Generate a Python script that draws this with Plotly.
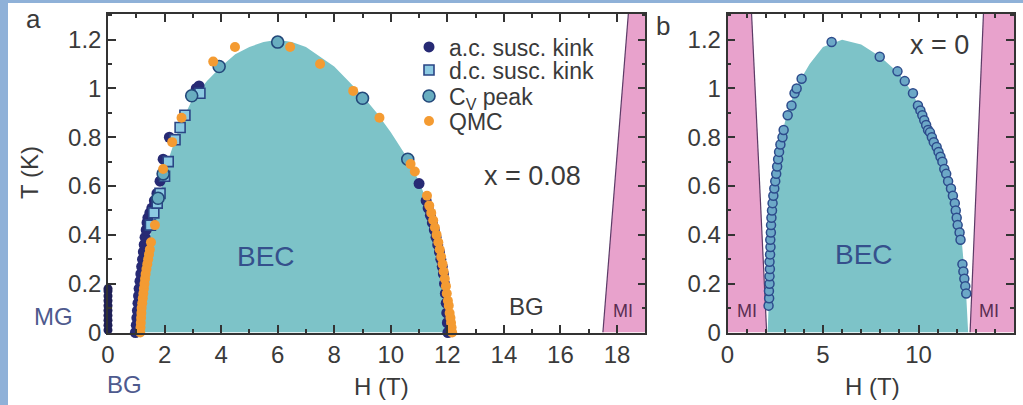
import plotly.graph_objects as go

# ---------------- panel a : x = 0.08 ----------------
# BEC dome outline (H in tesla, T in kelvin)
bec_a_H = [1.15, 1.25, 1.45, 1.70, 1.95, 2.20, 2.55, 3.00, 3.50, 4.00, 4.50, 5.00, 5.50, 6.00,
           6.50, 7.00, 7.50, 8.00, 8.50, 9.00, 9.50, 10.00, 10.50, 11.00, 11.30, 11.60, 11.85,
           12.00, 12.05]
bec_a_T = [0.00, 0.20, 0.38, 0.50, 0.62, 0.73, 0.85, 0.96, 1.03, 1.09, 1.14, 1.17, 1.19, 1.20,
           1.19, 1.17, 1.13, 1.09, 1.03, 0.97, 0.90, 0.82, 0.73, 0.62, 0.53, 0.41, 0.27,
           0.13, 0.00]

# Mott-insulator wedge at high field
mi_a_H = [17.5, 18.4, 19.0, 19.0]
mi_a_T = [0.0, 1.305, 1.305, 0.0]
mi_a_edge_H = [17.5, 18.4]
mi_a_edge_T = [0.0, 1.305]

# a.c. susceptibility kinks in zero field (magnetic glass)
mg_H = [0.0, 0.0, 0.0, 0.0, 0.0, 0.0, 0.0, 0.0, 0.0, 0.0]
mg_T = [0.01, 0.03, 0.05, 0.07, 0.09, 0.11, 0.13, 0.15, 0.17, 0.18]

# a.c. susceptibility kinks along the dome
ac_H = [0.97, 1.00, 1.02, 1.04, 1.06, 1.08, 1.10, 1.13, 1.16, 1.19, 1.22, 1.25, 1.28, 1.31,
        1.35, 1.38, 1.41, 1.48, 1.55, 1.64, 1.73, 1.84, 1.95, 2.17, 3.12, 3.22,
        11.00, 11.25, 11.32, 11.40, 11.47, 11.54, 11.60, 11.66, 11.72, 11.77, 11.82, 11.86,
        11.90, 11.93, 11.96, 11.98, 12.00, 12.02]
ac_T = [0.00, 0.03, 0.06, 0.09, 0.12, 0.15, 0.18, 0.21, 0.24, 0.27, 0.30, 0.33, 0.36, 0.39,
        0.42, 0.45, 0.47, 0.49, 0.51, 0.54, 0.57, 0.62, 0.71, 0.80, 1.00, 1.01,
        0.61, 0.54, 0.51, 0.48, 0.45, 0.42, 0.39, 0.36, 0.33, 0.30, 0.27, 0.24,
        0.20, 0.16, 0.12, 0.08, 0.04, 0.00]

# d.c. susceptibility kinks
dc_H = [1.50, 1.62, 1.74, 1.84, 2.00, 2.13, 2.37, 2.55, 2.72, 3.25]
dc_T = [0.44, 0.49, 0.53, 0.57, 0.64, 0.70, 0.79, 0.84, 0.89, 0.98]

# specific-heat peaks
cv_H = [1.77, 1.95, 2.96, 3.93, 6.00, 9.00, 10.60]
cv_T = [0.55, 0.65, 0.97, 1.09, 1.19, 0.96, 0.71]

# quantum Monte Carlo
qmc_H = [1.14, 1.15, 1.16, 1.17, 1.18, 1.19, 1.21, 1.23, 1.25, 1.27, 1.29, 1.31, 1.33, 1.36,
         1.39, 1.42, 1.45, 1.48, 1.52,
         1.66, 1.95, 2.27, 2.60, 3.72, 4.49, 6.44, 7.50, 8.67, 9.60, 10.70, 10.85, 11.28,
         11.36, 11.43, 11.50, 11.56, 11.62, 11.68, 11.73, 11.78, 11.83, 11.87, 11.91, 11.95,
         11.98, 12.02, 12.05, 12.08, 12.11, 12.13, 12.15, 12.17]
qmc_T = [0.00, 0.02, 0.04, 0.06, 0.08, 0.10, 0.12, 0.14, 0.16, 0.18, 0.20, 0.22, 0.24, 0.26,
         0.28, 0.30, 0.32, 0.34, 0.37,
         0.44, 0.67, 0.78, 0.88, 1.11, 1.17, 1.17, 1.10, 0.99, 0.88, 0.69, 0.66, 0.56,
         0.52, 0.49, 0.46, 0.43, 0.40, 0.37, 0.34, 0.31, 0.28, 0.25, 0.22, 0.19,
         0.16, 0.13, 0.11, 0.08, 0.06, 0.04, 0.02, 0.00]

# ---------------- panel b : x = 0 ----------------
bec_b_H = [2.10, 2.15, 2.22, 2.30, 2.45, 2.80, 3.20, 3.70, 4.30, 5.00, 6.00, 7.00, 8.00, 9.00,
           9.70, 10.50, 11.20, 11.80, 12.20, 12.35, 12.50, 12.60]
bec_b_T = [0.00, 0.10, 0.25, 0.40, 0.60, 0.80, 0.92, 1.02, 1.10, 1.17, 1.20, 1.18, 1.13, 1.06,
           0.98, 0.84, 0.72, 0.58, 0.43, 0.30, 0.15, 0.00]

mi_b_left_H = [0.0, 2.05, 1.26, 0.0]
mi_b_left_T = [0.0, 0.0, 1.305, 1.305]
mi_b_left_edge_H = [2.05, 1.26]
mi_b_right_H = [12.7, 15.0, 15.0, 13.4]
mi_b_right_T = [0.0, 0.0, 1.305, 1.305]
mi_b_right_edge_H = [12.7, 13.4]
mi_b_edge_T = [0.0, 1.305]

cv0_H = [2.15, 2.18, 2.17, 2.20, 2.20, 2.22, 2.20, 2.23, 2.25, 2.24, 2.27, 2.28, 2.30, 2.33,
         2.36, 2.40, 2.45, 2.50, 2.55, 2.60, 2.65, 2.70, 2.77, 2.88, 2.94, 3.15, 3.35, 3.51,
         3.62, 3.88, 5.45, 7.97, 8.90, 9.28, 9.71, 9.97, 10.10, 10.20, 10.30, 10.40, 10.50,
         10.60, 10.70, 10.80, 10.95, 11.05, 11.15, 11.25, 11.35, 11.45, 11.55, 11.70, 11.80,
         11.90, 11.95, 12.00, 12.05, 12.15, 12.20, 12.30, 12.35, 12.40, 12.45, 12.50]
cv0_T = [0.11, 0.14, 0.17, 0.20, 0.23, 0.26, 0.29, 0.32, 0.35, 0.38, 0.41, 0.44, 0.47, 0.50,
         0.53, 0.56, 0.59, 0.62, 0.65, 0.68, 0.71, 0.74, 0.77, 0.80, 0.83, 0.89, 0.93, 0.98,
         1.00, 1.04, 1.19, 1.13, 1.07, 1.03, 0.98, 0.93, 0.91, 0.89, 0.87, 0.85, 0.83,
         0.82, 0.80, 0.78, 0.76, 0.74, 0.72, 0.70, 0.67, 0.65, 0.62, 0.59, 0.56,
         0.53, 0.50, 0.47, 0.44, 0.41, 0.38, 0.28, 0.25, 0.22, 0.19, 0.16]

# ---------------- styling ----------------
W, H = 1023, 405
FONT = "Liberation Sans, Arial, sans-serif"
TXT = "#3a3a3a"
TEAL = "#7dc3c8"
PINK = "#e8a2cc"
EDGE = "#5b3a66"
AC = "#272a74"
QMC = "#f49b32"

def px(x):
    return x / W

def py(y):
    return 1 - y / H

dom_y = [py(332.5), py(14)]
dom_xa = [px(108), px(645.3)]
dom_xb = [px(727.5), px(1014)]

fig = go.Figure()

# panel a regions
fig.add_trace(go.Scatter(x=bec_a_H, y=bec_a_T, fill="toself", fillcolor=TEAL, mode="none",
                         hoverinfo="skip", showlegend=False, xaxis="x", yaxis="y"))
fig.add_trace(go.Scatter(x=mi_a_H, y=mi_a_T, fill="toself", fillcolor=PINK, mode="none",
                         hoverinfo="skip", showlegend=False, xaxis="x", yaxis="y"))
fig.add_trace(go.Scatter(x=mi_a_edge_H, y=mi_a_edge_T, mode="lines", line=dict(color=EDGE, width=1.2),
                         hoverinfo="skip", showlegend=False, xaxis="x", yaxis="y"))

# panel a symbols
fig.add_trace(go.Scatter(x=mg_H, y=mg_T, mode="markers", showlegend=False,
                         marker=dict(symbol="circle", size=9, color="#1e1f55", line=dict(width=0)),
                         cliponaxis=False, xaxis="x", yaxis="y"))
fig.add_trace(go.Scatter(x=ac_H, y=ac_T, mode="markers", name="a.c. susc. kink", legend="legend",
                         marker=dict(symbol="circle", size=11, color=AC, line=dict(width=0)),
                         cliponaxis=False, xaxis="x", yaxis="y"))
fig.add_trace(go.Scatter(x=dc_H, y=dc_T, mode="markers", name="d.c. susc. kink", legend="legend2",
                         marker=dict(symbol="square", size=10, color="#8ccae2",
                                     line=dict(width=1.6, color="#2a4585")),
                         xaxis="x", yaxis="y"))
fig.add_trace(go.Scatter(x=cv_H, y=cv_T, mode="markers", name="C<sub>V</sub> peak", legend="legend3",
                         marker=dict(symbol="circle", size=12, color="#68adc0",
                                     line=dict(width=1.6, color="#23487a")),
                         xaxis="x", yaxis="y"))
fig.add_trace(go.Scatter(x=qmc_H, y=qmc_T, mode="markers", name="QMC", legend="legend4",
                         marker=dict(symbol="circle", size=10, color=QMC, line=dict(width=0)),
                         cliponaxis=False, xaxis="x", yaxis="y"))

# panel b regions and symbols
fig.add_trace(go.Scatter(x=bec_b_H, y=bec_b_T, fill="toself", fillcolor=TEAL, mode="none",
                         hoverinfo="skip", showlegend=False, xaxis="x2", yaxis="y2"))
fig.add_trace(go.Scatter(x=mi_b_left_H, y=mi_b_left_T, fill="toself", fillcolor=PINK, mode="none",
                         hoverinfo="skip", showlegend=False, xaxis="x2", yaxis="y2"))
fig.add_trace(go.Scatter(x=mi_b_right_H, y=mi_b_right_T, fill="toself", fillcolor=PINK, mode="none",
                         hoverinfo="skip", showlegend=False, xaxis="x2", yaxis="y2"))
for eh in (mi_b_left_edge_H, mi_b_right_edge_H):
    fig.add_trace(go.Scatter(x=eh, y=mi_b_edge_T, mode="lines", line=dict(color=EDGE, width=1.2),
                             hoverinfo="skip", showlegend=False, xaxis="x2", yaxis="y2"))
fig.add_trace(go.Scatter(x=cv0_H, y=cv0_T, mode="markers", showlegend=False,
                         marker=dict(symbol="circle", size=9, color="#6ca8c7",
                                     line=dict(width=1.5, color="#2d4c8c")),
                         xaxis="x2", yaxis="y2"))

tickfont = dict(family=FONT, size=24, color=TXT)

def xaxis(dom, rng, dtick, minor):
    return dict(domain=dom, range=rng, showline=True, linecolor="#333", linewidth=1.5,
                mirror="allticks", ticks="inside", ticklen=8, tickwidth=1.5, tickcolor="#333",
                tick0=0, dtick=dtick, tickfont=tickfont, showgrid=False, zeroline=False,
                minor=dict(ticks="inside", dtick=minor, tick0=0, ticklen=4, tickwidth=1.5,
                           tickcolor="#333", showgrid=False),
                automargin=False, fixedrange=True)

def yaxis(anchor):
    return dict(domain=dom_y, range=[0, 1.305], anchor=anchor, showline=True, linecolor="#333",
                linewidth=1.5, mirror="allticks", ticks="inside", ticklen=8, tickwidth=1.5,
                tickcolor="#333", tick0=0, dtick=0.2, tickfont=tickfont, showgrid=False,
                zeroline=False,
                minor=dict(ticks="inside", dtick=0.1, tick0=0, ticklen=4, tickwidth=1.5,
                           tickcolor="#333", showgrid=False),
                automargin=False, fixedrange=True)

legfont = dict(family=FONT, size=23, color=TXT)
def leg(ycenter):
    return dict(x=px(409), y=py(ycenter), xanchor="left", yanchor="middle",
                bgcolor="rgba(0,0,0,0)", font=legfont, borderwidth=0,
                itemsizing="trace")

def ann(text, x, y, size=24, color=TXT, xref="paper", yref="paper"):
    return dict(text=text, x=x, y=y, xref=xref, yref=yref, showarrow=False,
                font=dict(family=FONT, size=size, color=color), xanchor="center", yanchor="middle")

BLUE_TXT = "#35508c"
GREY_BLUE = "#4e5a8e"
MI_TXT = "#5a2d52"

annotations = [
    ann("a", px(33), py(19), size=26),
    ann("b", px(663), py(26), size=26),
    ann("T (K)", px(29), py(173), size=24),
    ann("H (T)", px(381), py(386), size=24),
    ann("H (T)", px(872), py(386), size=24),
    ann("BEC", 5.6, 0.31, size=28, color=BLUE_TXT, xref="x", yref="y"),
    ann("BEC", 7.15, 0.32, size=28, color=BLUE_TXT, xref="x2", yref="y2"),
    ann("x = 0.08", 15.0, 0.64, size=27, xref="x", yref="y"),
    ann("x = 0", 11.1, 1.18, size=27, xref="x2", yref="y2"),
    ann("BG", 14.8, 0.107, size=24, xref="x", yref="y"),
    ann("MI", 18.2, 0.09, size=18, color=MI_TXT, xref="x", yref="y"),
    ann("MI", 1.0, 0.09, size=18, color=MI_TXT, xref="x2", yref="y2"),
    ann("MI", 13.7, 0.09, size=18, color=MI_TXT, xref="x2", yref="y2"),
    ann("MG", px(53), py(316), size=24, color=GREY_BLUE),
    ann("BG", px(124), py(384), size=24, color=GREY_BLUE),
]
annotations[2]["textangle"] = -90

# light-blue frame strips along the left and top edges
shapes = [
    dict(type="rect", xref="paper", yref="paper", x0=0, x1=px(8), y0=0, y1=1,
         fillcolor="#8fb1d8", line=dict(width=0), layer="below"),
    dict(type="rect", xref="paper", yref="paper", x0=0, x1=1, y0=py(3), y1=1,
         fillcolor="#8fb1d8", line=dict(width=0), layer="below"),
]

fig.update_layout(
    width=W, height=H, margin=dict(l=0, r=0, t=0, b=0, pad=0, autoexpand=False),
    paper_bgcolor="white", plot_bgcolor="rgba(0,0,0,0)",
    font=dict(family=FONT, color=TXT),
    xaxis=xaxis(dom_xa, [0, 19], 2, 1) | dict(anchor="y"),
    yaxis=yaxis("x"),
    xaxis2=xaxis(dom_xb, [0, 15], 5, 1) | dict(anchor="y2"),
    yaxis2=yaxis("x2"),
    legend=leg(47), legend2=leg(70), legend3=leg(96), legend4=leg(121),
    annotations=annotations, shapes=shapes,
)

fig.write_html(
    "out.html",
    config={"displayModeBar": False},
    post_script="document.body.style.margin='0';document.body.style.overflow='hidden';",
)
